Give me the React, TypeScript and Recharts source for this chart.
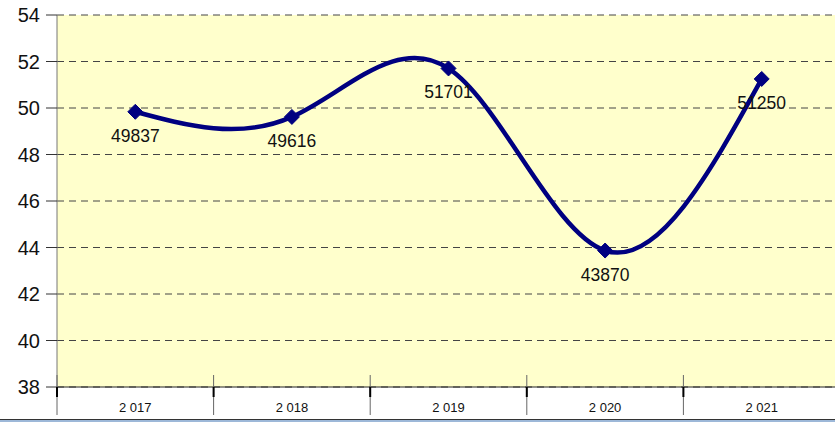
import { CartesianGrid, LabelList, Line, LineChart, XAxis, YAxis } from "recharts";

const years = ["2 017", "2 018", "2 019", "2 020", "2 021"];
const values = [49837, 49616, 51701, 43870, 51250];
const yTicks = [38000, 40000, 42000, 44000, 46000, 48000, 50000, 52000, 54000];

const data = years.map((year, i) => ({ year, value: values[i] }));

const NAVY = "#000080";
const BAND = 783 / 5;

function Diamond(props: any) {
  const { cx, cy } = props;
  if (cx == null || cy == null) return null;
  const r = 7.5;
  return (
    <path
      d={`M${cx},${cy - r} L${cx + r},${cy} L${cx},${cy + r} L${cx - r},${cy} Z`}
      fill={NAVY}
      stroke={NAVY}
    />
  );
}

function YearTick(props: any) {
  const { x, y, payload } = props;
  const half = BAND / 2;
  const axisY = 387;
  return (
    <g>
      <line x1={x - half} x2={x - half} y1={axisY - 12} y2={axisY + 28} stroke="#666" strokeWidth={1} />
      <line x1={x - half} x2={x - half} y1={axisY} y2={axisY + 10} stroke="#000" strokeWidth={2} />
      <text x={x} y={y + 17} textAnchor="middle" fontSize={13} fill="#111" fontFamily="Liberation Sans, Arial, sans-serif">
        {payload.value}
      </text>
    </g>
  );
}

function ValueLabel(props: any) {
  const { x, y, value } = props;
  return (
    <text x={x} y={y + 30} textAnchor="middle" fontSize={17.5} fill="#111" fontFamily="Liberation Sans, Arial, sans-serif">
      {value}
    </text>
  );
}

export default function App() {
  return (
    <div style={{ position: "absolute", left: 0, top: 0, width: 835, height: 422, overflow: "hidden", background: "#fff" }}>
      <LineChart width={840} height={422} data={data} margin={{ top: 15, right: 0, left: 0, bottom: 0 }}>
        <CartesianGrid vertical={false} fill="#FFFFCC" stroke="#444" strokeDasharray="7 5" />
        <XAxis
          dataKey="year"
          height={35}
          padding={{ left: BAND / 2, right: BAND / 2 }}
          tickLine={false}
          axisLine={{ stroke: "#222", strokeWidth: 1 }}
          tick={<YearTick />}
          interval={0}
        />
        <YAxis
          width={57}
          domain={[38000, 54000]}
          ticks={yTicks}
          tickFormatter={(v) => String(v / 1000)}
          tickSize={11}
          tickLine={{ stroke: "#333" }}
          axisLine={{ stroke: "#777" }}
          tick={{ fontSize: 20, fill: "#111", fontFamily: "Liberation Sans, Arial, sans-serif" }}
          tickMargin={6}
          allowDataOverflow
        />
        <Line
          type="natural"
          dataKey="value"
          stroke={NAVY}
          strokeWidth={4.5}
          dot={<Diamond />}
          activeDot={false}
          isAnimationActive={false}
        >
          <LabelList dataKey="value" content={<ValueLabel />} />
        </Line>
      </LineChart>
      <div style={{ position: "absolute", left: 0, top: 419, width: 835, height: 1, background: "#333" }} />
      <div style={{ position: "absolute", left: 0, top: 420, width: 835, height: 2, background: "#9DB8D8" }} />
    </div>
  );
}
